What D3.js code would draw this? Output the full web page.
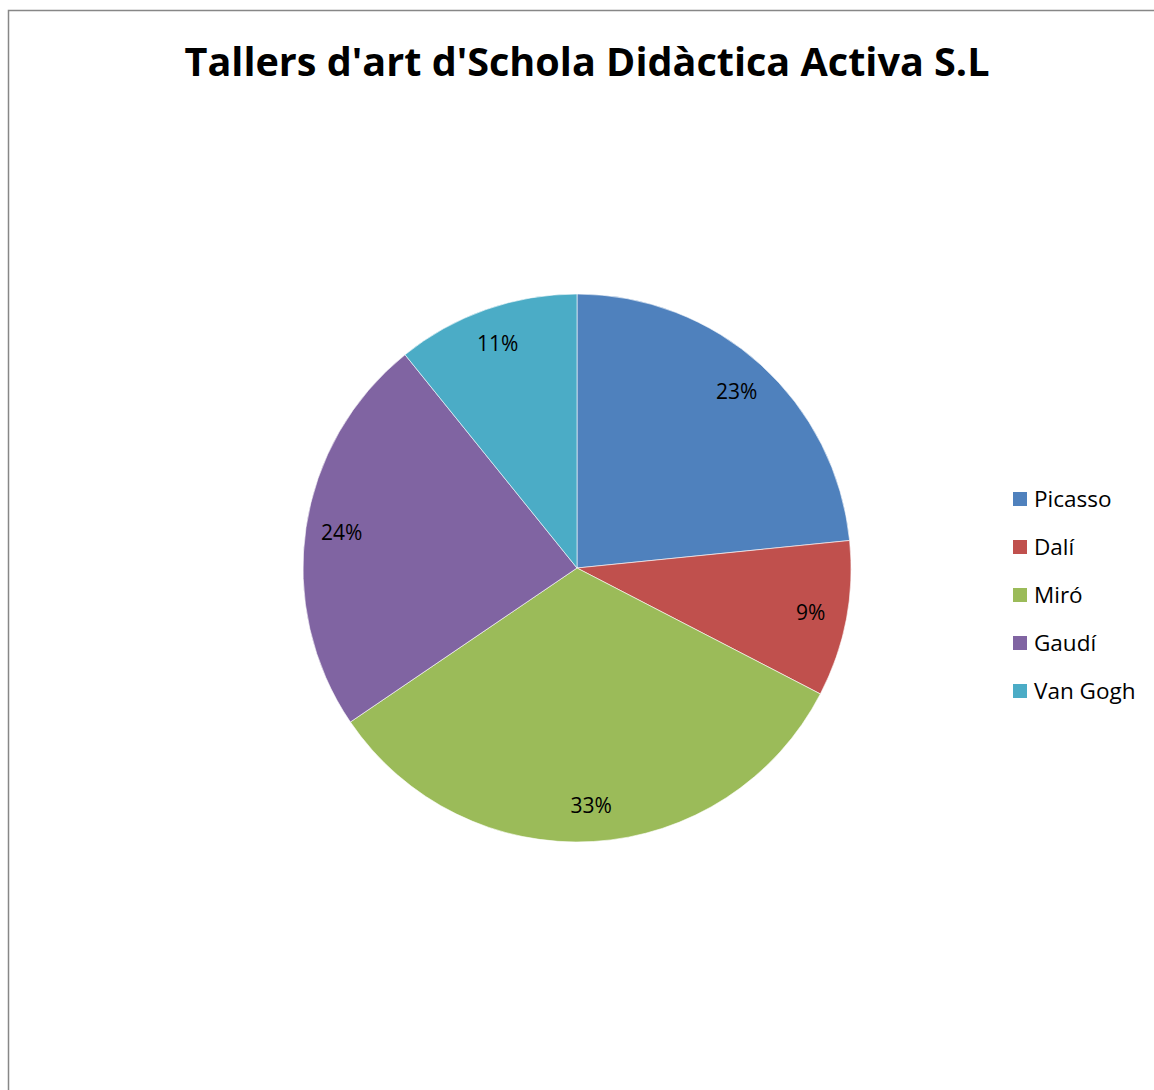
<!DOCTYPE html>
<html>
<head>
<meta charset="utf-8">
<script src="https://cdn.jsdelivr.net/npm/d3@7"></script>
<style>
  html, body { margin: 0; padding: 0; background: #fff; }
  svg { display: block; }
</style>
</head>
<body>
<script>
// Workshop shares per artist
const artists = ["Picasso", "Dalí", "Miró", "Gaudí", "Van Gogh"];
const shares = [23.4, 9.2, 32.9, 23.7, 10.8];
const palette = ["#4F81BD", "#C0504D", "#9BBB59", "#8064A2", "#4BACC6"];
const chartTitle = "Tallers d'art d'Schola Didàctica Activa S.L";

const W = 1154, H = 1090;
const svg = d3.select("body").append("svg").attr("width", W).attr("height", H);

// chart frame (runs off the right and bottom edges)
svg.append("path")
  .attr("d", `M8.5,${H + 5} L8.5,10.5 L${W + 5},10.5`)
  .attr("fill", "none").attr("stroke", "#878787").attr("stroke-width", 1.5);

svg.append("text")
  .attr("x", 587).attr("y", 76)
  .attr("text-anchor", "middle")
  .attr("font-family", "'Open Sans', 'Noto Sans', sans-serif")
  .attr("font-weight", "bold").attr("font-size", 40)
  .attr("textLength", 805).attr("lengthAdjust", "spacingAndGlyphs")
  .attr("fill", "#000")
  .text(chartTitle);

const cx = 577, cy = 568, R = 274;
const color = d3.scaleOrdinal().domain(artists).range(palette);
const total = d3.sum(shares);
const data = artists.map((a, i) => ({ name: a, value: shares[i] }));

const pie = d3.pie().value(d => d.value).sort(null);
const arc = d3.arc().innerRadius(0).outerRadius(R);
const labelArc = d3.arc().innerRadius(238).outerRadius(238);

const g = svg.append("g").attr("transform", `translate(${cx},${cy})`);
const arcs = pie(data);

g.selectAll("path.slice").data(arcs).join("path")
  .attr("class", "slice")
  .attr("d", arc)
  .attr("fill", d => color(d.data.name))
  .attr("stroke", "#fff").attr("stroke-width", 0.6);

g.selectAll("text.lbl").data(arcs).join("text")
  .attr("class", "lbl")
  .attr("transform", d => `translate(${labelArc.centroid(d)})`)
  .attr("text-anchor", "middle").attr("dy", "0.35em")
  .attr("font-family", "'Open Sans', 'Noto Sans', sans-serif")
  .attr("font-size", 21).attr("fill", "#000")
  .text(d => Math.round(d.data.value / total * 100) + "%");

// legend
const legend = svg.append("g").attr("transform", "translate(1013,499)");
const rowY = d3.scalePoint().domain(artists).range([0, 192]);
const items = legend.selectAll("g").data(artists).join("g")
  .attr("transform", d => `translate(0,${rowY(d)})`);
items.append("rect")
  .attr("x", 0).attr("y", -7).attr("width", 14).attr("height", 14)
  .attr("fill", d => color(d));
items.append("text")
  .attr("x", 21).attr("y", 0).attr("dy", "0.35em")
  .attr("font-family", "'Open Sans', 'Noto Sans', sans-serif")
  .attr("font-size", 22.5).attr("fill", "#000")
  .text(d => d);
</script>
</body>
</html>
